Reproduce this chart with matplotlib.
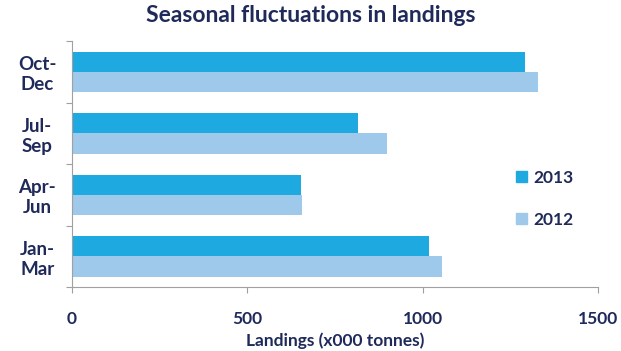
import numpy as np
import matplotlib.pyplot as plt
from matplotlib.patches import Patch

plt.rcParams['font.family'] = ['Lato', 'DejaVu Sans']

# Данные (тыс. тонн)
quarters = ['Jan-\nMar', 'Apr-\nJun', 'Jul-\nSep', 'Oct-\nDec']
landings_2013 = [1018, 652, 815, 1291]
landings_2012 = [1056, 656, 897, 1328]

c2013 = '#1ea9e1'
c2012 = '#9fc9ea'
txt = '#1f2a5a'

fig = plt.figure(figsize=(6.21, 3.51), dpi=100)
ax = fig.add_axes([0.116, 0.182, 0.847, 0.701])

y = np.arange(len(quarters))
h = 0.33
ax.barh(y + h / 2, landings_2013, height=h, color=c2013, label='2013')
ax.barh(y - h / 2, landings_2012, height=h, color=c2012, label='2012')

ax.set_xlim(0, 1500)
ax.set_ylim(-0.5, 3.5)
ax.set_xticks([0, 500, 1000, 1500])
ax.tick_params(axis='x', length=4, color='#a0a0a0', pad=13,
               labelsize=12.5, labelcolor=txt)
for lab in ax.get_xticklabels():
    lab.set_fontweight('bold')

# метки на границах категорий, подписи по центру
ax.set_yticks(np.arange(-0.5, 4, 1))
ax.set_yticklabels([])
ax.tick_params(axis='y', which='major', length=4, color='#a0a0a0')
ax.set_yticks(y, minor=True)
ax.set_yticklabels(quarters, minor=True, fontsize=13.5, fontweight='bold',
                   color=txt, ha='center', linespacing=1.2)
ax.tick_params(axis='y', which='minor', length=0, pad=25)

for s in ['top', 'right']:
    ax.spines[s].set_visible(False)
for s in ['left', 'bottom']:
    ax.spines[s].set_color('#a0a0a0')

ax.set_xlabel('Landings (x000 tonnes)', fontsize=12.5, fontweight='bold',
              color=txt, labelpad=4)
fig.suptitle('Seasonal fluctuations in landings', fontsize=16.5,
             fontweight='bold', color=txt, y=0.985)

handles = [Patch(color=c2013), Patch(color=c2012)]
leg = ax.legend(handles, ['2013', '2012'], loc='center left',
                bbox_to_anchor=(0.815, 0.36), frameon=False,
                handlelength=0.6, handleheight=0.6, handletextpad=0.4,
                labelspacing=1.5, prop={'weight': 'bold', 'size': 12.5})
for t in leg.get_texts():
    t.set_color(txt)

plt.savefig('out.png', dpi=100)
